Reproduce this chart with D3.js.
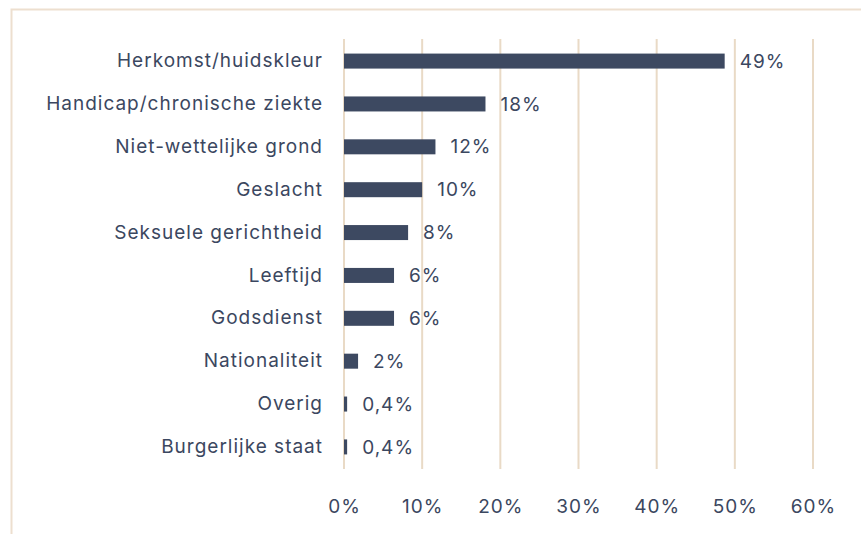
<!DOCTYPE html>
<html lang="nl">
    <head>
        <meta charset="utf-8">
        <title>Discriminatiegronden</title>
        <script type="text/javascript" src="https://d3js.org/d3.v7.min.js"></script>
        <style type="text/css">
            body { margin: 0; background: #fff; }
            text {
                font-family: "Inter", "Lato", sans-serif;
                font-size: 19px;
                letter-spacing: 1px;
                fill: #3b4760;
            }
        </style>
    </head>
    <body>
        <script type="text/javascript">

        // Data
        var categories = ["Herkomst/huidskleur", "Handicap/chronische ziekte", "Niet-wettelijke grond",
                          "Geslacht", "Seksuele gerichtheid", "Leeftijd", "Godsdienst",
                          "Nationaliteit", "Overig", "Burgerlijke staat"];
        var values = [48.7, 18.1, 11.7, 10.0, 8.2, 6.4, 6.4, 1.8, 0.4, 0.4];
        var valueLabels = ["49%", "18%", "12%", "10%", "8%", "6%", "6%", "2%", "0,4%", "0,4%"];
        var ticks = [0, 10, 20, 30, 40, 50, 60];

        var w = 861;
        var h = 534;
        var margin = {top: 39, right: 48, bottom: 65, left: 344};

        var svg = d3.select("body")
                    .append("svg")
                    .attr("width", w)
                    .attr("height", h);

        // kader
        svg.append("rect")
            .attr("x", 11.5)
            .attr("y", 9.5)
            .attr("width", w + 20)
            .attr("height", h + 20)
            .attr("fill", "none")
            .attr("stroke", "#eddfcf")
            .attr("stroke-width", 2);

        var x = d3.scaleLinear()
                  .domain([0, 60])
                  .range([margin.left, w - margin.right]);

        var y = d3.scaleBand()
                  .domain(categories)
                  .range([margin.top, h - margin.bottom])
                  .paddingInner(0.65)
                  .paddingOuter(0.34);

        // rasterlijnen
        svg.selectAll("line.grid")
            .data(ticks)
            .enter()
            .append("line")
            .attr("class", "grid")
            .attr("x1", function(d){ return x(d); })
            .attr("x2", function(d){ return x(d); })
            .attr("y1", margin.top)
            .attr("y2", h - margin.bottom)
            .attr("stroke", "#e9dac6")
            .attr("stroke-width", 2);

        // x-as
        var xAxis = d3.axisBottom(x)
                      .tickValues(ticks)
                      .tickSize(0)
                      .tickPadding(31)
                      .tickFormat(function(d){ return d + "%"; });

        svg.append("g")
            .attr("transform", "translate(0," + (h - margin.bottom) + ")")
            .call(xAxis)
            .call(function(g){ g.select(".domain").remove(); })
            .selectAll("text")
            .attr("font-size", null)
            .attr("font-family", null)
            .attr("fill", null);

        // y-as
        var yAxis = d3.axisLeft(y)
                      .tickSize(0)
                      .tickPadding(21);

        svg.append("g")
            .attr("transform", "translate(" + margin.left + ",0)")
            .call(yAxis)
            .call(function(g){ g.select(".domain").remove(); })
            .selectAll("text")
            .attr("font-size", null)
            .attr("font-family", null)
            .attr("fill", null);

        // balken
        svg.selectAll("rect.bar")
            .data(values)
            .enter()
            .append("rect")
            .attr("class", "bar")
            .attr("x", x(0))
            .attr("y", function(d, i){ return y(categories[i]); })
            .attr("width", function(d){ return x(d) - x(0); })
            .attr("height", y.bandwidth())
            .attr("fill", "#3d4961");

        // waarden
        svg.selectAll("text.val")
            .data(values)
            .enter()
            .append("text")
            .attr("class", "val")
            .attr("x", function(d){ return x(d) + 15; })
            .attr("y", function(d, i){ return y(categories[i]) + y.bandwidth() / 2; })
            .attr("dy", "0.35em")
            .text(function(d, i){ return valueLabels[i]; });

        </script>
    </body>
</html>
